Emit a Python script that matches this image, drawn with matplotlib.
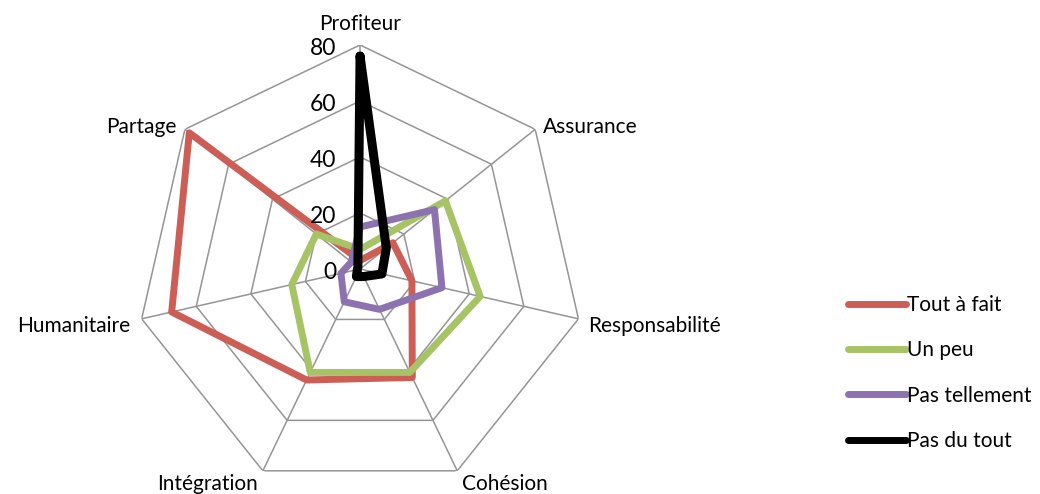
import numpy as np
import matplotlib
matplotlib.use('Agg')
import matplotlib.pyplot as plt

plt.rcParams['font.family'] = ['Lato', 'DejaVu Sans']

# --- DONNEES ---
categories = ['Profiteur', 'Assurance', 'Responsabilité', 'Cohésion',
              'Intégration', 'Humanitaire', 'Partage']
tout_a_fait = [3, 15, 19, 43, 44, 69, 78]
un_peu = [7, 39, 44, 41, 41, 25, 20]
pas_tellement = [15, 34, 30, 16, 13, 7, 4]
pas_du_tout = [76, 12, 8, 3, 3, 1, 1]
series_names = ['Tout à fait', 'Un peu', 'Pas tellement', 'Pas du tout']
r_ticks = [0, 20, 40, 60, 80]

colors = ['#CD5E55', '#A6C466', '#8D72B0', '#000000']
widths = [5.0, 5.0, 5.0, 6.5]

n = len(categories)
angles = np.arange(n) * 2 * np.pi / n
angles_closed = np.append(angles, angles[0])

fig = plt.figure(figsize=(10.4, 4.94), dpi=100)
ax = fig.add_axes([0.1308, 0.002, 0.4308, 0.907], projection='polar')
ax.set_theta_zero_location('N')
ax.set_theta_direction(-1)
ax.set_ylim(0, 80)
ax.grid(False)
ax.spines['polar'].set_visible(False)
ax.set_xticks([])
ax.set_yticks([])
ax.patch.set_alpha(0)

# grille heptagonale
for r in r_ticks[1:]:
    ax.plot(angles_closed, [r] * (n + 1), color='#959595', lw=1.1, zorder=1)
for a in angles:
    ax.plot([a, a], [0, 80], color='#959595', lw=1.1, zorder=1)

# series
all_series = [tout_a_fait, un_peu, pas_tellement, pas_du_tout]
for vals, name, c, w in zip(all_series, series_names, colors, widths):
    v = np.append(vals, vals[0])
    ax.plot(angles_closed, v, color=c, lw=w, label=name, zorder=3,
            solid_joinstyle='round', solid_capstyle='round')

# etiquettes des graduations
for r in r_ticks:
    ax.annotate(str(r), xy=(0, r), xytext=(-24, -4), textcoords='offset pixels',
                ha='right', va='center', fontsize=16.5, color='black')

# etiquettes des categories
label_pos = [
    ((0, 11), 'center', 'bottom'),
    ((8, 2), 'left', 'center'),
    ((10, -7), 'left', 'center'),
    ((5, -3), 'left', 'top'),
    ((-5, -3), 'right', 'top'),
    ((-11, -7), 'right', 'center'),
    ((-8, 2), 'right', 'center'),
]
for a, name, (off, ha, va) in zip(angles, categories, label_pos):
    ax.annotate(name, xy=(a, 80), xytext=off, textcoords='offset pixels',
                ha=ha, va=va, fontsize=15, color='black')

leg = fig.legend(loc='center left', bbox_to_anchor=(0.797, 0.245), frameon=False,
                 fontsize=15, handlelength=2.8, handletextpad=0.05,
                 labelspacing=1.22)
for line in leg.get_lines():
    line.set_linewidth(5)
    line.set_solid_capstyle('round')

fig.savefig('out.png', dpi=100)
